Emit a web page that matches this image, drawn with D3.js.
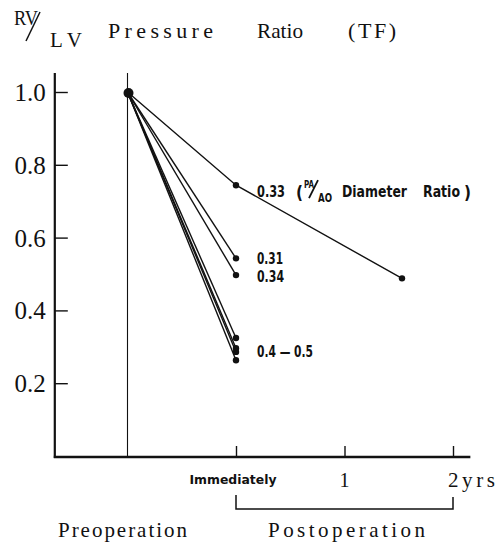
<!DOCTYPE html>
<html>
<head>
<meta charset="utf-8">
<script src="https://cdn.jsdelivr.net/npm/d3@7/dist/d3.min.js"></script>
<style>
  html, body { margin: 0; padding: 0; background: #fff; }
  svg { display: block; }
  .serif { font-family: "Liberation Serif", "DejaVu Serif", serif; fill: #111; }
  .narrow { font-family: "Liberation Sans Narrow", "DejaVu Sans Condensed", "Liberation Sans", sans-serif; font-weight: bold; fill: #111; }
</style>
</head>
<body>
<div id="chart"></div>
<script>
// time points (years, preoperation = -1)
var preopTime = -1;
var immediateTime = 0;
var followUpTime = 1.53;
// x tick positions and labels
var xTicks = [0, 1, 2];
var xTickLabels = ["Immediately", "1", "2yrs"];
// y ticks
var yTicks = [0.2, 0.4, 0.6, 0.8, 1.0];
// RV/LV pressure ratio per patient
var preopValues = [1.0, 1.0, 1.0, 1.0, 1.0, 1.0, 1.0];
var immediateValues = [0.744, 0.543, 0.497, 0.324, 0.296, 0.286, 0.263];
// only the first patient has a late follow-up value
var followUpValues = [0.488];
// PA/AO diameter ratio groups, with the value of the line they annotate
var groupLabels = ["0.33", "0.31", "0.34", "0.4 \u2014 0.5"];
var groupAnchors = [0.744, 0.543, 0.497, 0.293];

var W = 496, H = 547;

var svg = d3.select("#chart").append("svg")
    .attr("width", W)
    .attr("height", H);

var x = d3.scaleLinear().domain([0, 2]).range([236, 453]);
var y = d3.scaleLinear().domain([0, 1]).range([456, 92]);

var axisX0 = x(-1.67);   // y axis position
var axisXEnd = x(2.16);  // end of x axis
var topY = 73;

// ---- title ----
svg.append("text").attr("class", "serif")
    .attr("x", 14).attr("y", 25).attr("font-size", "20px")
    .attr("textLength", 24).attr("lengthAdjust", "spacingAndGlyphs")
    .text("RV");
svg.append("line")
    .attr("x1", 40).attr("y1", 12).attr("x2", 26).attr("y2", 41)
    .attr("stroke", "#111").attr("stroke-width", 1.5);
svg.append("text").attr("class", "serif")
    .attr("x", 50).attr("y", 47).attr("font-size", "21px")
    .attr("textLength", 32).attr("lengthAdjust", "spacing")
    .text("LV");
svg.append("text").attr("class", "serif")
    .attr("x", 108).attr("y", 38).attr("font-size", "22px")
    .attr("textLength", 105).attr("lengthAdjust", "spacing")
    .text("Pressure");
svg.append("text").attr("class", "serif")
    .attr("x", 257).attr("y", 38).attr("font-size", "22px")
    .attr("textLength", 46).attr("lengthAdjust", "spacingAndGlyphs")
    .text("Ratio");
svg.append("text").attr("class", "serif")
    .attr("x", 348).attr("y", 38).attr("font-size", "22px")
    .attr("textLength", 48).attr("lengthAdjust", "spacing")
    .text("(TF)");

// ---- axes ----
var yAxis = d3.axisLeft(y)
    .tickValues(yTicks)
    .tickSizeInner(-13)
    .tickSizeOuter(0)
    .tickPadding(9)
    .tickFormat(d3.format(".1f"));

var gy = svg.append("g")
    .attr("transform", "translate(" + axisX0 + ",0)")
    .call(yAxis);
gy.select(".domain").remove();
gy.selectAll(".tick line").attr("stroke", "#111").attr("stroke-width", 1.4);
gy.selectAll(".tick text")
    .attr("class", "serif")
    .attr("font-size", "25px")
    .attr("dy", "0.34em");

svg.append("line")
    .attr("x1", axisX0).attr("x2", axisX0)
    .attr("y1", topY).attr("y2", y(0) + 2)
    .attr("stroke", "#111").attr("stroke-width", 2.2);

var xAxis = d3.axisBottom(x)
    .tickValues(xTicks)
    .tickSizeInner(-10)
    .tickSizeOuter(0)
    .tickFormat("");

var gx = svg.append("g")
    .attr("transform", "translate(0," + y(0) + ")")
    .call(xAxis);
gx.select(".domain").remove();
gx.selectAll(".tick line").attr("stroke", "#111").attr("stroke-width", 1.4);

svg.append("line")
    .attr("x1", axisX0 - 1).attr("x2", axisXEnd)
    .attr("y1", y(0) + 1).attr("y2", y(0) + 1)
    .attr("stroke", "#111").attr("stroke-width", 2.6);

// preoperation vertical line
svg.append("line")
    .attr("x1", x(preopTime)).attr("x2", x(preopTime))
    .attr("y1", topY).attr("y2", y(0))
    .attr("stroke", "#111").attr("stroke-width", 1.1);

// x tick labels
svg.append("text").attr("class", "narrow")
    .attr("x", x(xTicks[0]) - 3).attr("y", 484)
    .attr("font-size", "12px").attr("text-anchor", "middle")
    .attr("textLength", 87).attr("lengthAdjust", "spacingAndGlyphs")
    .text(xTickLabels[0]);
svg.append("text").attr("class", "serif")
    .attr("x", x(xTicks[1])).attr("y", 487)
    .attr("font-size", "20px").attr("text-anchor", "middle")
    .text(xTickLabels[1]);
svg.append("text").attr("class", "serif")
    .attr("x", x(xTicks[2]) - 5).attr("y", 487)
    .attr("font-size", "21px")
    .attr("textLength", 47).attr("lengthAdjust", "spacing")
    .text(xTickLabels[2]);

// postoperation bracket
svg.append("path")
    .attr("d", "M" + x(0) + ",495 L" + x(0) + ",509 L" + x(2) + ",509 L" + x(2) + ",497")
    .attr("fill", "none").attr("stroke", "#111").attr("stroke-width", 1.5);

svg.append("text").attr("class", "serif")
    .attr("x", 58).attr("y", 537).attr("font-size", "21px")
    .attr("textLength", 129).attr("lengthAdjust", "spacing")
    .text("Preoperation");
svg.append("text").attr("class", "serif")
    .attr("x", 268).attr("y", 537).attr("font-size", "21px")
    .attr("textLength", 157).attr("lengthAdjust", "spacing")
    .text("Postoperation");

// ---- patient lines ----
var line = d3.line()
    .x(function (d) { return x(d[0]); })
    .y(function (d) { return y(d[1]); });

var patients = preopValues.map(function (v, i) {
    var pts = [[preopTime, v], [immediateTime, immediateValues[i]]];
    if (i < followUpValues.length) pts.push([followUpTime, followUpValues[i]]);
    return pts;
});

svg.selectAll(".patient")
    .data(patients)
    .enter()
    .append("path")
    .attr("class", "patient")
    .attr("d", line)
    .attr("fill", "none")
    .attr("stroke", "#111")
    .attr("stroke-width", 1.4);

svg.selectAll(".dot")
    .data(d3.merge(patients.map(function (p) { return p.slice(1); })))
    .enter()
    .append("circle")
    .attr("class", "dot")
    .attr("cx", function (d) { return x(d[0]); })
    .attr("cy", function (d) { return y(d[1]); })
    .attr("r", 3.2)
    .attr("fill", "#111");

svg.append("circle")
    .attr("cx", x(preopTime) + 1).attr("cy", y(preopValues[0]) + 1)
    .attr("r", 5)
    .attr("fill", "#111");

// ---- group labels ----
var labelX = 257;
var labelDy = [12, 6, 7, 8];
var labelLen = [28, 26, 27, 56];
svg.selectAll(".glabel")
    .data(groupLabels)
    .enter()
    .append("text")
    .attr("class", "narrow glabel")
    .attr("x", labelX)
    .attr("y", function (d, i) { return y(groupAnchors[i]) + labelDy[i]; })
    .attr("font-size", "15px")
    .attr("textLength", function (d, i) { return labelLen[i]; })
    .attr("lengthAdjust", "spacingAndGlyphs")
    .text(function (d) { return d; });

// "( PA/AO Diameter Ratio)"
var by = y(groupAnchors[0]) + 12;
svg.append("text").attr("class", "narrow")
    .attr("x", 296).attr("y", by + 2).attr("font-size", "17px").text("(");
svg.append("text").attr("class", "narrow")
    .attr("x", 304).attr("y", by - 9).attr("font-size", "10px")
    .attr("textLength", 10).attr("lengthAdjust", "spacingAndGlyphs").text("PA");
svg.append("line")
    .attr("x1", 318).attr("y1", by - 17).attr("x2", 309).attr("y2", by + 1)
    .attr("stroke", "#111").attr("stroke-width", 1.8);
svg.append("text").attr("class", "narrow")
    .attr("x", 318).attr("y", by + 5).attr("font-size", "12px")
    .attr("textLength", 14).attr("lengthAdjust", "spacingAndGlyphs").text("AO");
svg.append("text").attr("class", "narrow")
    .attr("x", 342).attr("y", by).attr("font-size", "15px")
    .attr("textLength", 65).attr("lengthAdjust", "spacingAndGlyphs").text("Diameter");
svg.append("text").attr("class", "narrow")
    .attr("x", 423).attr("y", by).attr("font-size", "15px")
    .attr("textLength", 37).attr("lengthAdjust", "spacingAndGlyphs").text("Ratio");
svg.append("text").attr("class", "narrow")
    .attr("x", 464).attr("y", by + 2).attr("font-size", "17px").text(")");
</script>
</body>
</html>
